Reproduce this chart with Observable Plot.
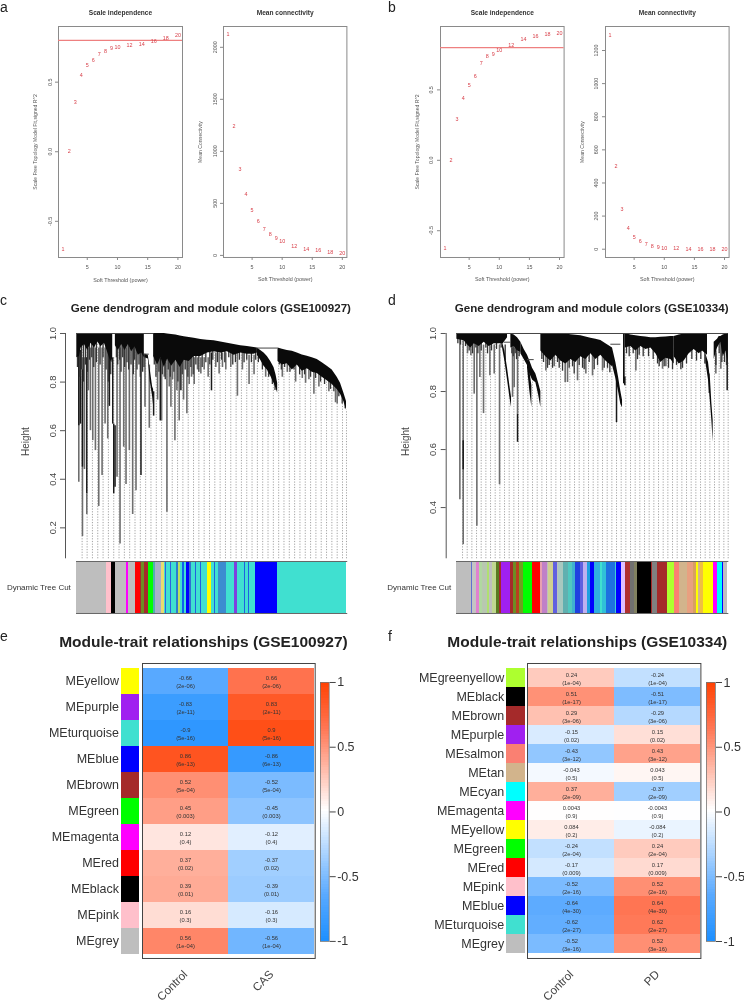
<!DOCTYPE html>
<html><head><meta charset="utf-8">
<script src="https://cdn.jsdelivr.net/npm/d3@7"></script>
<script src="https://cdn.jsdelivr.net/npm/@observablehq/plot@0.6"></script>
<style>
html,body{margin:0;padding:0;background:#fff;overflow:hidden}
#page{position:relative;width:744px;height:1004px;overflow:hidden;background:#fff;font-family:"Liberation Sans",Arial,sans-serif;filter:blur(0.4px)}
.tag{position:absolute;font-size:14px;line-height:15px;color:#222}
</style></head><body><div id="page"></div>
<script>
// ---------- soft-threshold panels ----------
const powers = [1,2,3,4,5,6,7,8,9,10,12,14,16,18,20];
const aFit = [-0.70,0.0,0.358,0.55,0.625,0.656,0.697,0.724,0.743,0.75,0.767,0.774,0.793,0.817,0.839];
const aConn = [2121,1242,823,585,431,330,255,206,163,134,92,62,46,33,23];
const bFit = [-0.626,0,0.29,0.438,0.533,0.598,0.686,0.74,0.755,0.779,0.817,0.86,0.881,0.898,0.90];
const bConn = [1291,503,240,129,75,46,28,18,12,8,4,2,1,1,0.5];

// ---------- dendrogram c: leaf index, upper height, lower height ----------
const cBodyA = [[227,1,.90],[235,1,.905],[240,1,.94],[250,1,.955],[260,1,.93],[270,1,.96],[280,1,.94],[290,1,.965],[300,1,.945],[310,1,.96],[318,1,.93],[325,1,.90],[332,1,.88],[335,1,.9]];
const cBodyB = [[343,1,.95],[352,1,.93],[362,1,.955],[372,1,.93],[382,1,.955],[392,1,.925],[402,1,.945],[412,1,.91],[422,1,.92],[430,1,.90]];
const cBodyC = [[432,.915,.90],[442,.91,.895],[448,.85,.80],[455,.78,.74],[458,.77,.70]];
const cBodyD = [[458,1,.905],[470,1,.87],[480,1,.90],[490,1,.86],[500,.998,.895],[512,.996,.865],[525,.994,.89],[538,.99,.86],[550,.987,.89],[565,.984,.885],[580,.98,.905],[600,.975,.905],[620,.972,.92],[640,.97,.925],[660,.965,.92],[680,.96,.925],[700,.955,.91],[720,.95,.92],[740,.946,.915],[760,.942,.915],[770,.94,.92]];
const cBodyE = [[770,.94,.91],[780,.93,.89],[790,.92,.865],[800,.905,.85],[810,.885,.825],[820,.86,.795],[826,.83,.775],[831,.795,.755]];
const cBodyF = [[832,.94,.885],[845,.935,.87],[860,.93,.875],[875,.927,.85],[890,.92,.87],[905,.912,.845],[920,.906,.855],[935,.90,.84],[950,.893,.835],[965,.88,.82],[980,.865,.805],[995,.85,.79],[1010,.82,.77],[1020,.795,.75],[1030,.755,.72],[1038,.72,.685]];
const cBranches = [[233,.93,.388,"g"],[233,.93,.62,"k"],[238,.93,.627,"k"],[244,.90,.164,"g"],[244,.85,.45,"k"],[250,.90,.44,"g"],[257,.90,.34,"k"],[257,.34,.255,"g"],[262,.94,.764,"g"],[268,.94,.6,"g"],[275,.94,.559,"g"],[283,.94,.518,"g"],[293,.94,.288,"g"],[303,.94,.415,"g"],[312,.94,.627,"g"],[320,.94,.566,"g"],[325,.94,.70,"k"],[335,.90,.627,"k"],[338,.627,.34,"k"],[342,.62,.367,"k"],[348,.94,.408,"g"],[357,.94,.134,"g"],[368,.94,.532,"g"],[375,.94,.378,"g"],[385,.94,.518,"g"],[395,.94,.255,"g"],[405,.94,.353,"g"],[420,.94,.415,"k"],[432,.915,.696,"g"],[445,.87,.61,"g"],[458,.76,.66,"k"],[470,.9,.726,"g"],[478,.9,.64,"k"],[482,.9,.64,"g"],[490,.9,.82,"g"],[498,.9,.264,"g"],[505,.9,.78,"g"],[510,.9,.696,"g"],[515,.9,.81,"g"],[522,.9,.559,"g"],[528,.9,.764,"g"],[535,.9,.64,"g"],[540,.9,.764,"k"],[548,.9,.726,"g"],[558,.9,.67,"g"],[565,.9,.79,"g"],[572,.9,.82,"g"],[580,.9,.79,"g"],[590,.9,.85,"g"],[600,.9,.833,"g"],[610,.9,.85,"g"],[622,.9,.82,"g"],[632,.92,.764,"k"],[645,.92,.86,"g"],[655,.92,.833,"g"],[665,.92,.86,"g"],[675,.92,.85,"g"],[690,.92,.86,"g"],[710,.92,.742,"g"],[725,.92,.85,"g"],[745,.91,.79,"g"],[760,.91,.83,"g"],[795,.86,.82,"g"],[845,.88,.82,"g"],[860,.88,.84,"g"],[885,.87,.80,"g"],[905,.85,.815,"g"],[915,.86,.795,"g"],[925,.85,.81,"g"],[940,.84,.75,"g"],[955,.84,.78,"g"],[985,.81,.76,"g"],[1005,.78,.715,"g"],[1010,.78,.71,"g"]];
const cTeeth = [[229,.86],[236,.82],[241,.85],[247,.80],[253,.87],[259,.84],[265,.89],[272,.90],[278,.86],[286,.88],[297,.87],[306,.90],[315,.85],[322,.80],[329,.83],[346,.90],[350,.87],[356,.89],[360,.84],[365,.90],[371,.86],[378,.88],[383,.85],[390,.87],[397,.83],[401,.89],[408,.85],[414,.87],[418,.82],[425,.84],[429,.86],[460,.87],[465,.82],[474,.84],[484,.83],[493,.81],[502,.85],[508,.82],[519,.84],[531,.80],[544,.83],[553,.85],[561,.82],[570,.86],[577,.83],[585,.87],[594,.84],[604,.86],[615,.88],[627,.87],[636,.89],[650,.88],[662,.89],[672,.88],[684,.90],[696,.87],[704,.88],[716,.89],[730,.88],[738,.89],[752,.88],[765,.89],[773,.88],[785,.85],[804,.82],[815,.79],[823,.765],[836,.87],[842,.85],[852,.86],[868,.84],[880,.85],[897,.83],[912,.83],[930,.82],[945,.815],[960,.80],[972,.79],[990,.77],[1000,.76],[1015,.74],[1025,.71],[1034,.69]];
const cBridges = [[227,458,1],[770,832,.94],[430,445,.915]];
const cGuides = [243,258,274,290,306,322,338,354,370,386,402,418,434,450,466,482,498,514,530,546,562,578,594,610,626,642,658,674,690,706,722,738,754,770,786,802,818,834,850,866,882,898,914,930,946,962,978,994,1010,1026,1038];
const cBandEdges = [227,318,331,343,376,384,405,418,423,432,444,457,463,482,490,494,497,510,513,526,532,538,545,552,558,565,572,584,586,598,601,621,633,641,643,653,677,701,709,731,734,743,746,763,830,1038];
const cBandColors = ["#BEBEBE","#FFC0CB","#000000","#BEBEBE","#FF00FF","#BEBEBE","#FF0000","#A52A2A","#6B8E23","#A52A2A","#00FF00","#50B0B0","#A9B0C8","#E8DC6E","#40E0D0","#3060E0","#40E0D0","#3060E0","#40E0D0","#2E7BD0","#B8E060","#40E0D0","#1060F0","#40E0D0","#0000FF","#3070D0","#40E0D0","#2060E0","#40E0D0","#2060E0","#40E0D0","#FFFF00","#40E0D0","#2060E0","#40E0D0","#3C8CD0","#40E0D0","#7D40E0","#40E0D0","#2060E0","#40E0D0","#2060E0","#40E0D0","#0000FF","#40E0D0"];

// ---------- dendrogram d ----------
const dBodyA = [[253,1,.98],[275,1,.975],[285,1,.96],[295,1,.95],[305,1,.965],[320,1,.955],[335,1,.97],[350,1,.955],[365,1,.965],[380,1,.965],[392,1,.965],[405,1,.985]];
const dBodyB = [[390,.97,.95],[397,.94,.905],[405,.88,.84],[412,.82,.78],[417,.78,.745]];
const dBodyC = [[415,.998,.95],[425,.995,.955],[435,.985,.94],[445,.97,.935]];
const dBodyD = [[445,.97,.93],[455,.945,.91],[465,.925,.89],[472,.905,.86],[480,.88,.84],[490,.86,.83],[498,.83,.79],[505,.80,.745]];
const dBodyE = [[465,.91,.88],[472,.87,.80],[478,.82,.745]];
const dBodyF = [[505,1,.94],[520,1,.92],[535,1,.905],[550,1,.925],[565,.999,.905],[580,.998,.895],[595,.996,.91],[610,.994,.90],[625,.992,.92],[640,.988,.91],[655,.984,.93],[670,.98,.91],[685,.976,.925],[700,.965,.905],[720,.95,.885]];
const dBodyG = [[720,.95,.89],[730,.90,.845],[738,.85,.80],[745,.80,.755],[750,.77,.745]];
const dBodyH = [[753,1,.83],[758,1,.82]];
const dBodyI = [[758,1,.95],[775,.995,.955],[790,.992,.94],[805,.99,.955],[820,.988,.945],[835,.985,.95],[850,.985,.93],[865,.987,.90],[880,.988,.915],[895,.99,.91],[905,.99,.895]];
const dBodyJ = [[905,.99,.92],[920,.995,.895],[935,.998,.905],[950,1,.93],[965,1,.945],[980,1,.93],[990,1,.94],[1005,1,.925]];
const dBodyK = [[1000,.93,.90],[1008,.90,.84],[1014,.84,.76],[1018,.76,.70],[1022,.70,.625]];
const dBodyL = [[1025,.97,.91],[1035,.98,.95],[1040,.99,.96],[1045,.99,.97],[1052,.995,.92],[1060,.998,.94],[1067,1,.90]];
const dBranches = [[262,.98,.427,"g"],[272,.98,.272,"g"],[272,.63,.53,"k"],[285,.97,.93,"g"],[295,.96,.923,"g"],[305,.97,.791,"g"],[313,.96,.336,"g"],[322,.96,.848,"g"],[333,.96,.724,"g"],[352,.96,.854,"g"],[365,.96,.86,"g"],[381,.96,.479,"g"],[420,.95,.78,"g"],[425,.95,.814,"g"],[435,.94,.722,"g"],[435,.722,.625,"k"],[520,.93,.871,"g"],[545,.93,.885,"g"],[578,.91,.831,"g"],[585,.91,.831,"g"],[615,.91,.837,"g"],[640,.92,.86,"g"],[660,.93,.854,"g"],[690,.92,.871,"g"],[732,.85,.693,"k"],[757,.85,.82,"k"],[790,.95,.871,"g"],[870,.92,.877,"g"],[880,.92,.885,"g"],[1010,.86,.793,"g"],[1064,1,.803,"k"],[1045,.97,.877,"g"],[1030,.93,.86,"g"]];
const dTeeth = [[256,.965],[264,.96],[279,.955],[290,.94],[300,.93],[310,.95],[316,.93],[326,.94],[340,.95],[345,.93],[357,.94],[372,.945],[386,.95],[398,.96],[418,.93],[422,.92],[428,.93],[432,.91],[440,.92],[508,.91],[513,.90],[525,.88],[530,.89],[540,.88],[555,.90],[560,.88],[570,.87],[590,.88],[600,.885],[605,.86],[620,.89],[630,.88],[635,.875],[650,.90],[665,.875],[675,.89],[695,.88],[705,.88],[712,.865],[762,.93],[770,.92],[782,.93],[795,.91],[800,.925],[812,.92],[828,.92],[842,.91],[855,.895],[860,.885],[875,.885],[888,.88],[900,.875],[912,.89],[925,.875],[930,.88],[942,.895],[958,.91],[972,.905],[985,.91],[997,.895],[1030,.89],[1040,.93],[1048,.90],[1056,.90],[1062,.89]];
const dBridges = [[253,1067,1],[395,415,.97],[465,485,.91],[715,745,.963]];
const dGuides = [270,284,298,312,326,340,354,368,382,396,410,424,438,452,466,480,494,508,522,536,550,564,578,592,606,620,634,648,662,676,690,704,718,732,746,760,774,788,802,816,830,844,858,872,886,900,914,928,942,956,970,984,998,1012,1026,1040,1054,1067];
const dBandEdges = [253,298,302,314,322,330,347,352,362,374,382,387,416,425,432,442,454,482,505,512,525,530,545,556,560,575,590,600,610,625,635,645,655,666,685,690,703,730,733,747,760,775,786,796,837,842,855,887,907,922,947,965,972,978,985,995,1023,1035,1050,1053,1067];
const dBandColors = ["#BEBEBE","#6070D0","#C4C4C4","#E080D0","#B0D8A0","#B8C8B0","#B0E070","#BEBEBE","#C0D890","#5A7A20","#A52A2A","#A020F0","#A52A2A","#6B8E23","#B84020","#6FA020","#00FF00","#FF0000","#E8A0B0","#C080C8","#BEBEBE","#D0D090","#6060E0","#BEBEBE","#A8C8C0","#60B0B0","#50C8C0","#40B0D0","#2040E0","#6060E0","#C0B0F0","#20A0E0","#0000FF","#30B0E0","#40E0D0","#30C0D8","#1E70E0","#40D0D0","#0000FF","#E0C0FF","#B03030","#707070","#808060","#000000","#A52A2A","#808080","#A52A2A","#ADFF2F","#FA8072","#D2B48C","#E8A080","#D8A060","#FFFF00","#D2B48C","#F0C040","#FFFF00","#FF00FF","#00FFFF","#0000FF","#BEBEBE"];

// ---------- heatmaps ----------
const moduleHex = {yellow:"#FFFF00",purple:"#A020F0",turquoise:"#40E0D0",blue:"#0000FF",brown:"#A52A2A",green:"#00FF00",magenta:"#FF00FF",red:"#FF0000",black:"#000000",pink:"#FFC0CB",grey:"#BEBEBE",greenyellow:"#ADFF2F",salmon:"#FA8072",tan:"#D2B48C",cyan:"#00FFFF"};
const eModules = ["yellow","purple","turquoise","blue","brown","green","magenta","red","black","pink","grey"];
const eControl = [-0.66,-0.83,-0.9,0.86,0.52,0.45,0.12,0.37,0.39,0.16,0.56];
const eCAS = [0.66,0.83,0.9,-0.86,-0.52,-0.45,-0.12,-0.37,-0.39,-0.16,-0.56];
const ePvalues = ["2e-06","2e-11","5e-16","6e-13","5e-04","0.003","0.4","0.02","0.01","0.3","1e-04"];
const fModules = ["greenyellow","black","brown","purple","salmon","tan","cyan","magenta","yellow","green","red","pink","blue","turquoise","grey"];
const fControl = [0.24,0.51,0.29,-0.15,-0.43,-0.043,0.37,0.0043,0.084,-0.24,-0.17,-0.52,-0.64,-0.62,-0.52];
const fPD = [-0.24,-0.51,-0.29,0.15,0.43,0.043,-0.37,-0.0043,-0.084,0.24,0.17,0.52,0.64,0.62,0.52];
const fPvalues = ["1e-04","1e-17","3e-06","0.02","3e-12","0.5","2e-09","0.9","0.2","2e-04","0.009","2e-16","4e-30","2e-27","3e-16"];
const legendSteps = d3.range(-1,1,0.02);
const heatColor = {type:"linear",domain:[-1,-0.65,0,0.65,1],range:["#1E90FF","#5AAAFF","#FFFFFF","#FF7350","#FF4000"]};

const FONT = '"Liberation Sans",Arial,sans-serif';
const page = document.getElementById("page");
const plain = d => String(d);
const oneDecimal = d => d.toFixed(1);
// box = inner frame in page pixels; pad = room around it
function put(box, pad, options){
  const [x0,y0,x1,y1] = box, [pt,pr,pb,pl] = pad;
  const svg = Plot.plot({
    width:(x1-x0)+pl+pr, height:(y1-y0)+pt+pb,
    marginTop:pt, marginRight:pr, marginBottom:pb, marginLeft:pl,
    style:{position:"absolute",left:(x0-pl)+"px",top:(y0-pt)+"px",background:"transparent",overflow:"visible",fontFamily:FONT},
    ...options
  });
  page.appendChild(svg);
  return svg;
}
function tag(t,x,y){const d=document.createElement("div");d.className="tag";d.textContent=t;d.style.left=x+"px";d.style.top=y+"px";page.appendChild(d);}

function softPanel(box,values,opts){
  const rows = powers.map((p,i)=>({p,v:values[i]}));
  put(box,[26,4,30,34],{
    x:{domain:[0.24,20.76]}, y:{domain:opts.domain},
    marks:[
      Plot.frame({stroke:"#8a8a8a",strokeWidth:1}),
      Plot.axisX({ticks:[5,10,15,20],tickFormat:plain,tickSize:3,tickPadding:5,fontSize:5.4,stroke:"#888",color:"#555",label:null}),
      Plot.axisY({ticks:opts.ticks,tickFormat:opts.fmt,tickSize:3,tickRotate:-90,tickPadding:4,fontSize:5.4,stroke:"#888",color:"#555",label:null}),
      opts.hline===undefined?null:Plot.ruleY([opts.hline],{stroke:"#EE8080",strokeWidth:1.2}),
      Plot.text(rows,{x:"p",y:"v",text:d=>String(d.p),fill:"#D8404A",fontSize:5.4}),
      Plot.text([opts.title],{frameAnchor:"top",dy:-16.5,text:d=>d,fontWeight:"bold",fontSize:6.6,fill:"#333"}),
      Plot.text([opts.ylabel],{frameAnchor:"left",dx:-23,rotate:-90,textAnchor:"middle",text:d=>d,fontSize:5.1,fill:"#555"}),
      Plot.text(["Soft Threshold (power)"],{frameAnchor:"bottom",dy:24,text:d=>d,fontSize:5.4,fill:"#555"})
    ]
  });
}
const fitLabel = "Scale Free Topology Model Fit,signed R^2";
softPanel([58,26,182,257],aFit,{domain:[-0.76,0.90],ticks:[-0.5,0,0.5],fmt:oneDecimal,hline:0.8,title:"Scale independence",ylabel:fitLabel});
softPanel([223.3,26,346.7,257],aConn,{domain:[-20,2200],ticks:[0,500,1000,1500,2000],fmt:plain,title:"Mean connectivity",ylabel:"Mean Connectivity"});
softPanel([439.7,26,563.3,257],bFit,{domain:[-0.69,0.95],ticks:[-0.5,0,0.5],fmt:oneDecimal,hline:0.8,title:"Scale independence",ylabel:fitLabel});
softPanel([604.7,26,728.3,257],bConn,{domain:[-50,1345],ticks:[0,200,400,600,800,1000,1200],fmt:plain,title:"Mean connectivity",ylabel:"Mean Connectivity"});

function dendro(opts){
  const pieces = opts.bodies.flatMap((b,k)=>b.map(r=>({k,x:r[0],top:r[1],low:r[2]})));
  const lowAt = g => {
    let best = null;
    opts.bodies.forEach(b=>{
      for(let i=0;i<b.length-1;i++) if(g>=b[i][0]&&g<=b[i+1][0]){
        const t=(g-b[i][0])/(b[i+1][0]-b[i][0]), l=b[i][2]+t*(b[i+1][2]-b[i][2]);
        best = best===null?l:Math.min(best,l);
      }
    });
    return best===null?0.9:best;
  };
  put(opts.box,[14,4,1,opts.box[0]-opts.textX+18],{
    x:{domain:opts.xDomain,axis:null}, y:{domain:opts.yDomain},
    marks:[
      Plot.ruleX(opts.guides,{y1:opts.yDomain[0],y2:g=>lowAt(g),stroke:"#8c8c8c",strokeWidth:0.8,strokeDasharray:"1.2,1.5"}),
      Plot.ruleX(opts.branches.filter(b=>b[3]==="g"),{x:b=>b[0],y1:b=>b[1],y2:b=>b[2],stroke:"#6e6e6e",strokeWidth:1.6}),
      Plot.ruleX(opts.branches.filter(b=>b[3]==="k"),{x:b=>b[0],y1:b=>b[1],y2:b=>b[2],stroke:"#1a1a1a",strokeWidth:1.5}),
      Plot.ruleX(opts.teeth,{x:b=>b[0],y1:b=>lowAt(b[0])+0.01,y2:b=>b[1],stroke:"#333",strokeWidth:1.3}),
      Plot.areaY(pieces,{x:"x",y1:"low",y2:"top",z:"k",fill:"#0a0a0a"}),
      Plot.ruleY(opts.bridges,{x1:b=>b[0],x2:b=>b[1],y:b=>b[2],stroke:"#444",strokeWidth:1}),
      Plot.ruleX([opts.xDomain[0]],{y1:opts.yDomain[0],y2:1,stroke:"#555",strokeWidth:1}),
      Plot.axisY({ticks:opts.ticks,tickFormat:oneDecimal,tickSize:5,tickRotate:-90,tickPadding:5,fontSize:9.4,stroke:"#555",color:"#444",label:null}),
      Plot.text(["Height"],{frameAnchor:"left",dx:opts.heightDx,rotate:-90,textAnchor:"middle",text:d=>d,fontSize:10,fill:"#444",dy:-4.6})
    ]
  });
  put([opts.barX[0],560.7,opts.barX[1],612.7],[2,2,2,80],{
    x:{domain:[opts.edges[0],opts.edges[opts.edges.length-1]],axis:null},
    color:{type:"identity"},
    marks:[
      Plot.rect(opts.colors.map((c,i)=>({c,a:opts.edges[i],b:opts.edges[i+1]})),{x1:"a",x2:"b",fill:"c",shapeRendering:"crispEdges"}),
      Plot.frame({anchor:"top",stroke:"#666",strokeWidth:1}),
      Plot.frame({anchor:"bottom",stroke:"#666",strokeWidth:1}),
      Plot.text(["Dynamic Tree Cut"],{frameAnchor:"left",dx:opts.labelDx,textAnchor:"end",text:d=>d,fontSize:8,fill:"#333"})
    ]
  });
  const t=document.createElement("div");
  t.textContent=opts.title;
  t.style.cssText=`position:absolute;left:${opts.titleX[0]}px;width:${opts.titleX[1]-opts.titleX[0]}px;top:300.5px;font-weight:bold;font-size:11.6px;line-height:14px;text-align:center;white-space:nowrap;color:#222`;
  page.appendChild(t);
}
dendro({box:[65,332.7,346,558],textX:20,xDomain:[193,1038],yDomain:[0.0726,1],ticks:[0.2,0.4,0.6,0.8,1],
  bodies:[cBodyA,cBodyB,cBodyC,cBodyD,cBodyE,cBodyF],branches:cBranches,teeth:cTeeth,bridges:cBridges,guides:cGuides,
  heightDx:-40,edges:cBandEdges,colors:cBandColors,barX:[75.7,346],labelDx:-5.7,
  title:"Gene dendrogram and module colors (GSE100927)",titleX:[70.7,350.7]});
dendro({box:[445.7,332.7,727.7,558],textX:400,xDomain:[221,1067],yDomain:[0.2235,1],ticks:[0.4,0.6,0.8,1],
  bodies:[dBodyA,dBodyB,dBodyC,dBodyD,dBodyE,dBodyF,dBodyG,dBodyH,dBodyI,dBodyJ,dBodyK,dBodyL],branches:dBranches,teeth:dTeeth,bridges:dBridges,guides:dGuides,
  heightDx:-40,edges:dBandEdges,colors:dBandColors,barX:[456.3,727.7],labelDx:-5.3,
  title:"Gene dendrogram and module colors (GSE10334)",titleX:[454.7,728]});

function heat(opts){
  const labels = opts.modules.map(m=>"ME"+m);
  // colour column and row names
  put(opts.sideBox,[0,0,0,opts.sideBox[0]],{
    y:{type:"band",domain:labels,padding:0}, color:{type:"identity"},
    marks:[
      Plot.cell(labels,{y:d=>d,fill:d=>moduleHex[d.slice(2)],shapeRendering:"crispEdges"}),
      Plot.axisY({tickSize:0,tickPadding:2.5,fontSize:12.5,color:"#333",label:null})
    ]
  });
  const table = opts.traits.flatMap((t,j)=>labels.map((r,i)=>({t,r,v:opts.values[j][i],p:opts.pvalues[i]})));
  put(opts.box,[0,2,45,0],{
    x:{type:"band",domain:opts.traits,padding:0}, y:{type:"band",domain:labels,padding:0,axis:null},
    color:heatColor,
    marks:[
      Plot.cell(table,{x:"t",y:"r",fill:"v",shapeRendering:"crispEdges"}),
      Plot.text(table,{x:"t",y:"r",text:d=>`${d.v}\n(${d.p})`,fontSize:5.8,lineHeight:1.38,fill:"#333"}),
      Plot.frame({stroke:"#444",strokeWidth:1}),
      Plot.axisX({anchor:"bottom",tickSize:0,tickRotate:-45,tickPadding:opts.xPad,fontSize:11.6,color:"#444",label:null})
    ]
  });
  // colour key
  put([opts.barX[0],682,opts.barX[1],941],[1,30,1,1],{
    x:{domain:[0,1],axis:null}, y:{domain:[-1,1]}, color:heatColor,
    marks:[
      Plot.rect(legendSteps,{x1:0,x2:1,y1:d=>d,y2:d=>d+0.02,fill:d=>d,shapeRendering:"crispEdges"}),
      Plot.frame({stroke:"#777",strokeWidth:0.8}),
      Plot.axisY({anchor:"right",ticks:[-1,-0.5,0,0.5,1],tickFormat:plain,tickSize:6,tickPadding:2,fontSize:12.5,stroke:"#444",color:"#333",label:null})
    ]
  });
  const t=document.createElement("div");
  t.textContent=opts.title;
  t.style.cssText=`position:absolute;left:${opts.titleX[0]}px;width:${opts.titleX[1]-opts.titleX[0]}px;top:633px;font-weight:bold;font-size:15.5px;line-height:18px;text-align:center;white-space:nowrap;color:#222`;
  page.appendChild(t);
}
heat({modules:eModules,traits:["Control","CAS"],values:[eControl,eCAS],pvalues:ePvalues,
  box:[142.3,663,315,958],sideBox:[121,662.7,139.3,957.7],barX:[320,328.7],xPad:14,
  title:"Module-trait relationships (GSE100927)",titleX:[58.7,348.3]});
heat({modules:fModules,traits:["Control","PD"],values:[fControl,fPD],pvalues:fPvalues,
  box:[527.3,663,700.7,958],sideBox:[506.3,663,524.7,957.3],barX:[705.7,714.7],xPad:14,
  title:"Module-trait relationships (GSE10334)",titleX:[447.3,727]});

tag("a",0,0);tag("b",388,0);tag("c",0,292.5);tag("d",388,292.5);tag("e",0,629);tag("f",388,629);
</script></body></html>
